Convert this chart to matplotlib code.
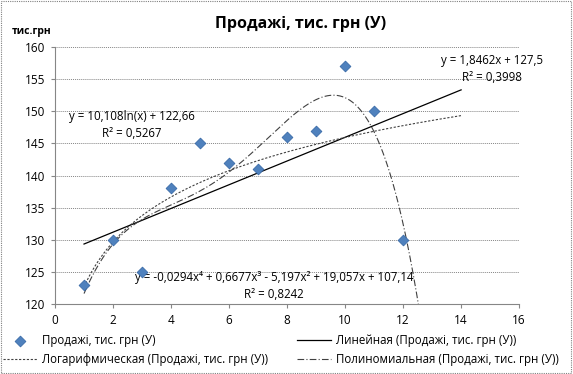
"""
Excel-style scatter of sales with linear, log and polynomial trendlines
"""

import numpy as np
import matplotlib.pyplot as plt
from matplotlib.patches import Rectangle

# data
months = [1, 2, 3, 4, 5, 6, 7, 8, 9, 10, 11, 12]
sales = [123, 130, 125, 138, 145, 142, 141, 146, 147, 157, 150, 130]

x_ticks = [0, 2, 4, 6, 8, 10, 12, 14, 16]
y_ticks = [120, 125, 130, 135, 140, 145, 150, 155, 160]

series_name = 'Продажі, тис. грн (У)'
lin_label = 'y = 1,8462x + 127,5\nR² = 0,3998'
log_label = 'y = 10,108ln(x) + 122,66\nR² = 0,5267'
poly_label = 'y = -0,0294x⁴ + 0,6677x³ - 5,197x² + 19,057x + 107,14\nR² = 0,8242'

plt.rcParams['font.family'] = ['Open Sans', 'DejaVu Sans']

x = np.array(months, dtype=float)
y = np.array(sales, dtype=float)

# trendlines fitted on the data, forecast forward to 14 like Excel
xs = np.linspace(1, 14, 300)
lin = np.polyval(np.polyfit(x, y, 1), xs)
log_coef = np.polyfit(np.log(x), y, 1)
logy = log_coef[0] * np.log(xs) + log_coef[1]
poly = np.polyval(np.polyfit(x, y, 4), xs)

fig = plt.figure(figsize=(5.73, 3.74), dpi=100)
ax = fig.add_axes([0.096, 0.187, 0.81, 0.687])

ax.plot(xs, lin, color='black', lw=0.9, label=f'Линейная ({series_name})')
ax.plot(xs, logy, color='#404040', lw=0.8, linestyle=(0, (2, 1.5)),
        label=f'Логарифмическая ({series_name})')
ax.plot(xs, poly, color='#404040', lw=0.8, linestyle=(0, (6, 2, 1, 2)),
        label=f'Полиномиальная ({series_name})')
ax.scatter(x, y, marker='D', s=30, color='#4F81BD', edgecolor='#3A6BA8',
           linewidth=0.6, zorder=5, label=series_name)

ax.set_xlim(0, 16)
ax.set_ylim(120, 160)
ax.set_xticks(x_ticks)
ax.set_yticks(y_ticks)
ax.tick_params(labelsize=8.5, color='#868686', length=3, pad=4)
ax.grid(axis='y', color='#868686', linestyle=(0, (1, 1)), lw=0.7)
ax.set_axisbelow(True)
for side in ['top', 'right']:
    ax.spines[side].set_visible(False)
for side in ['left', 'bottom']:
    ax.spines[side].set_color('#868686')

# trendline equations
ax.text(15.07, 156.6, lin_label, ha='center', va='center', fontsize=8.3,
        linespacing=1.35)
ax.text(2.65, 147.9, log_label, ha='center', va='center', fontsize=8.3,
        linespacing=1.35)
ax.text(7.55, 122.8, poly_label, ha='center', va='center', fontsize=8.3,
        linespacing=1.35)

fig.text(0.525, 0.935, series_name, ha='center', va='center', fontsize=11.5,
         fontweight='bold')
fig.text(0.021, 0.915, 'тис.грн', ha='left', va='center', fontsize=7.5,
         fontweight='bold')

handles, labels = ax.get_legend_handles_labels()
order = [3, 1, 0, 2]
fig.legend([handles[i] for i in order], [labels[i] for i in order],
           ncol=2, loc='center', bbox_to_anchor=(0.49, 0.064), frameon=False,
           fontsize=8.3, handlelength=3, columnspacing=2.5, labelspacing=0.45,
           handletextpad=0.4)

# dotted chart border
fig.patches.append(Rectangle((0.002, 0.003), 0.995, 0.993, transform=fig.transFigure,
                             fill=False, edgecolor='#808080', lw=0.8,
                             linestyle=(0, (1, 1))))

fig.savefig('out.png', dpi=100)
